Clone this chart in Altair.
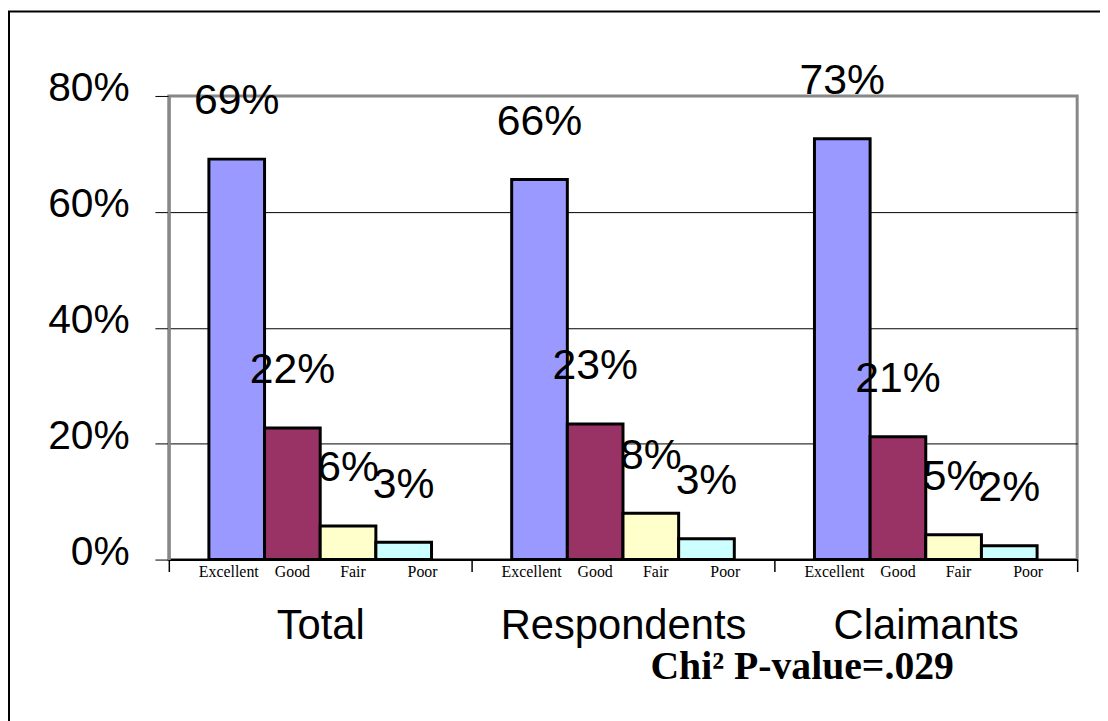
import altair as alt
import pandas as pd

groups = ["Total", "Respondents", "Claimants"]
ratings = ["Excellent", "Good", "Fair", "Poor"]
total_vals = [69.1, 22.7, 5.8, 3.0]
respondent_vals = [65.6, 23.4, 8.0, 3.6]
claimant_vals = [72.6, 21.2, 4.3, 2.4]
total_labels = ["69%", "22%", "6%", "3%"]
respondent_labels = ["66%", "23%", "8%", "3%"]
claimant_labels = ["73%", "21%", "5%", "2%"]
colors = ["#9999FF", "#993366", "#FFFFCC", "#CCFFFF"]
note = "Chi² P-value=.029"

rows = []
for g, vals, labs in zip(groups, [total_vals, respondent_vals, claimant_vals],
                         [total_labels, respondent_labels, claimant_labels]):
    for r, v, l in zip(ratings, vals, labs):
        rows.append({"Group": g, "Rating": r, "Value": v / 100.0, "Label": l})
df = pd.DataFrame(rows)

W, H = 915, 467

x_enc = alt.X("Group:N", sort=groups,
              scale=alt.Scale(paddingInner=0, paddingOuter=0),
              axis=alt.Axis(title=None, labelAngle=0, labelFontSize=42,
                            labelFont="Liberation Sans", labelColor="black",
                            labelBaseline="alphabetic", labelPadding=68,
                            labelLimit=0,
                            tickBand="extent", tickSize=12, tickColor="black",
                            tickWidth=1.5, domainColor="black", domainWidth=2))
xo_enc = alt.XOffset("Rating:N", sort=ratings,
                     scale=alt.Scale(paddingInner=0, paddingOuter=0.72))
y_enc = alt.Y("Value:Q",
              scale=alt.Scale(domain=[0, 0.8], nice=False),
              axis=alt.Axis(title=None, values=[0, 0.2, 0.4, 0.6, 0.8],
                            format=".0%", labelFontSize=41,
                            labelFont="Liberation Sans", labelColor="black",
                            labelPadding=26, labelOffset=-7,
                            labelBaseline="middle",
                            tickSize=14, tickColor="black",
                            domainColor="#888888", domainWidth=3,
                            grid=True,
                            gridColor={"condition": {"test": "datum.value >= 0.79", "value": "#888888"}, "value": "black"},
                            gridWidth=1))

base = alt.Chart(df)

frame = alt.Chart(pd.DataFrame({"k": [0]})).mark_rect(
    filled=False, stroke="black", strokeWidth=2
).encode(x=alt.value(-161), x2=alt.value(1100), y=alt.value(-85), y2=alt.value(800))

bars = base.mark_bar(stroke="black", strokeWidth=3).encode(
    x=x_enc, xOffset=xo_enc, y=y_enc,
    color=alt.Color("Rating:N", sort=ratings,
                    scale=alt.Scale(domain=ratings, range=colors), legend=None),
)

vlabels = base.mark_text(font="Liberation Sans", fontSize=43, baseline="middle",
                         align="center", dy=-58, color="black").encode(
    x=alt.X("Group:N", sort=groups), xOffset=xo_enc,
    y=alt.Y("Value:Q"), text="Label:N")

sub_dx = {"Excellent": -8, "Good": 0, "Fair": 5, "Poor": 19}
sublayers = []
for r in ratings:
    sublayers.append(
        base.transform_filter(alt.datum.Rating == r).mark_text(
            font="Liberation Serif", fontSize=16, baseline="alphabetic",
            align="center", dx=sub_dx[r], color="black").encode(
            x=alt.X("Group:N", sort=groups), xOffset=xo_enc,
            y=alt.value(H + 18), text="Rating:N"))

chi = alt.Chart(pd.DataFrame({"t": [note]})).mark_text(
    font="Liberation Serif", fontSize=40, fontWeight="bold",
    baseline="alphabetic", align="center", color="black").encode(
    x=alt.value(638), y=alt.value(587), text="t:N")

chart = alt.layer(frame, bars, vlabels, *sublayers, chi).properties(
    width=W, height=H,
    padding={"left": 162, "top": 86, "right": 23, "bottom": 160},
    autosize=alt.AutoSizeParams(type="none"),
    background="white",
).configure_view(stroke="#888888", strokeWidth=3)

chart.save("out.html", embed_options={"renderer": "svg", "actions": False})
